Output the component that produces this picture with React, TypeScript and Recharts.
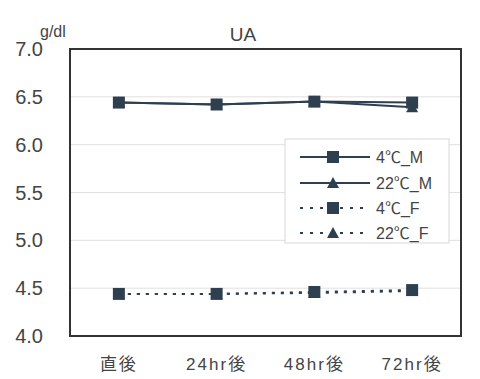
import React from 'react';
import { LineChart, Line, XAxis, YAxis, CartesianGrid, Customized } from 'recharts';

const categories = ['直後', '24hr後', '48hr後', '72hr後'];
const m4 = [6.44, 6.42, 6.45, 6.44];
const m22 = [6.44, 6.42, 6.45, 6.39];
const f4 = [4.44, 4.44, 4.46, 4.48];
const f22 = [4.44, 4.44, 4.45, 4.47];
const yTicks = [4.0, 4.5, 5.0, 5.5, 6.0, 6.5, 7.0];
const seriesNames = ['4\u2103_M', '22\u2103_M', '4\u2103_F', '22\u2103_F'];

const data = categories.map((c, i) => ({ cat: c, m4: m4[i], m22: m22[i], f4: f4[i], f22: f22[i] }));

const COLOR = '#2e4050';
const FONT = '"Liberation Sans", Arial, "Noto Sans CJK JP", sans-serif';

const Square = (props: any) => {
  const { cx, cy } = props;
  if (cx == null || cy == null) return null;
  return <rect x={cx - 6} y={cy - 6} width={12} height={12} fill={COLOR} />;
};
const Tri = (props: any) => {
  const { cx, cy } = props;
  if (cx == null || cy == null) return null;
  return <path d={`M${cx},${cy - 6} L${cx + 6},${cy + 5} L${cx - 6},${cy + 5} Z`} fill={COLOR} />;
};

const Frame = () => (
  <rect x={70} y={49} width={391} height={287} fill="none" stroke="#333" strokeWidth={2} />
);

const LegendBox = () => {
  const x0 = 285, y0 = 139, w = 164, h = 104;
  const rows = [157, 183, 208, 233];
  return (
    <g>
      <rect x={x0} y={y0} width={w} height={h} fill="#fff" stroke="#d8d8d8" strokeWidth={1} />
      {rows.map((y, i) => (
        <g key={i}>
          <line x1={300} x2={370} y1={y} y2={y} stroke={COLOR} strokeWidth={2} strokeDasharray={i >= 2 ? '3 7' : undefined} />
          {i % 2 === 0 ? (
            <rect x={327} y={y - 6} width={12} height={12} fill={COLOR} />
          ) : (
            <path d={`M333,${y - 6} L339,${y + 5} L327,${y + 5} Z`} fill={COLOR} />
          )}
          <text x={376} y={y + 6} fontSize={16} fill="#444" fontFamily={FONT}>{seriesNames[i]}</text>
        </g>
      ))}
    </g>
  );
};

const Texts = () => (
  <g>
    <text x={243} y={41} fontSize={19} fill="#444" textAnchor="middle" fontFamily={FONT}>UA</text>
    <text x={40} y={37} fontSize={16} fill="#444" fontFamily={FONT}>g/dl</text>
  </g>
);

export default function App() {
  return (
    <div style={{ position: 'absolute', left: 0, top: 0, background: '#fff' }}>
      <LineChart width={480} height={379} data={data} margin={{ top: 49, right: 19, bottom: 0, left: 0 }}>
        <CartesianGrid vertical={false} stroke="#e0e0e0" />
        <XAxis
          dataKey="cat"
          scale="band"
          height={43}
          tickLine={false}
          axisLine={false}
          tick={{ fill: '#444', fontSize: 17, fontFamily: FONT, letterSpacing: 2 }}
          tickMargin={16}
          interval={0}
        />
        <YAxis
          width={70}
          domain={[4, 7]}
          ticks={yTicks}
          tickFormatter={(v: number) => v.toFixed(1)}
          tickLine={false}
          axisLine={false}
          tick={{ fill: '#444', fontSize: 20, fontFamily: FONT }}
          tickMargin={21}
          interval={0}
        />
        <Line dataKey="f22" stroke={COLOR} strokeWidth={2} strokeDasharray="3 6" dot={<Tri />} isAnimationActive={false} />
        <Line dataKey="f4" stroke={COLOR} strokeWidth={2} strokeDasharray="3 6" dot={<Square />} isAnimationActive={false} />
        <Line dataKey="m22" stroke={COLOR} strokeWidth={2} dot={<Tri />} isAnimationActive={false} />
        <Line dataKey="m4" stroke={COLOR} strokeWidth={2} dot={<Square />} isAnimationActive={false} />
        <Customized component={Frame} />
        <Customized component={LegendBox} />
        <Customized component={Texts} />
      </LineChart>
    </div>
  );
}
